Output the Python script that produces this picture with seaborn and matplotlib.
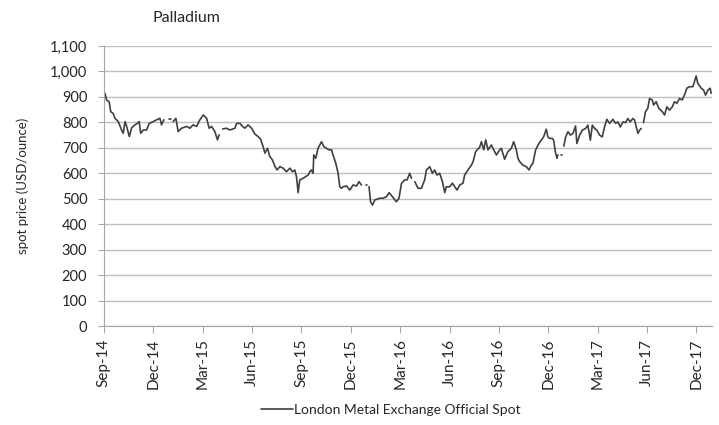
"""Palladium spot price chart (LME official spot), Sep-14 to Dec-17."""

import matplotlib
matplotlib.use("Agg")
import matplotlib.pyplot as plt
import numpy as np
import pandas as pd
import seaborn as sns
from matplotlib.lines import Line2D

# months since start of Sep-14 (NaN price = gap in the published series)
MONTHS = [
    0.06, 0.16, 0.32, 0.41, 0.56, 0.67, 0.87, 1.07, 1.17, 1.28, 1.38, 1.54,
    1.68, 1.88, 2.02, 2.14, 2.23, 2.39, 2.59, 2.75, 3.00, 3.20, 3.40, 3.50,
    3.64, 3.77, 3.95, 4.05, 4.12, 4.21, 4.37, 4.51, 4.72, 5.02, 5.22, 5.42,
    5.63, 5.83, 6.03, 6.24, 6.39, 6.54, 6.74, 6.90, 7.00, 7.11, 7.21, 7.45,
    7.65, 7.96, 8.06, 8.26, 8.42, 8.56, 8.76, 8.97, 9.17, 9.37, 9.52, 9.67,
    9.78, 9.94, 10.08, 10.24, 10.38, 10.52, 10.69, 10.89, 11.09, 11.30, 11.46, 11.60,
    11.70, 11.80, 11.90, 12.10, 12.31, 12.41, 12.51, 12.61, 12.71, 12.75, 12.87, 13.01,
    13.22, 13.36, 13.52, 13.68, 13.83, 13.92, 14.09, 14.23, 14.33, 14.43, 14.53, 14.74,
    14.94, 15.14, 15.35, 15.50, 15.65, 15.79, 15.92, 15.98, 16.03, 16.11, 16.20, 16.32,
    16.46, 16.76, 16.96, 17.17, 17.33, 17.53, 17.77, 17.93, 18.08, 18.28, 18.42, 18.58,
    18.69, 18.78, 18.89, 19.09, 19.29, 19.49, 19.60, 19.80, 19.96, 20.10, 20.24, 20.40,
    20.57, 20.71, 20.81, 21.01, 21.18, 21.32, 21.46, 21.62, 21.82, 21.92, 22.12, 22.33,
    22.43, 22.59, 22.83, 22.94, 23.08, 23.20, 23.34, 23.54, 23.64, 23.85, 24.05, 24.15,
    24.35, 24.55, 24.76, 24.90, 25.06, 25.16, 25.26, 25.46, 25.67, 25.83, 25.97, 26.07,
    26.23, 26.43, 26.58, 26.72, 26.88, 26.98, 27.08, 27.25, 27.33, 27.43, 27.53, 27.59,
    27.69, 27.76, 27.82, 27.88, 27.95, 28.06, 28.20, 28.34, 28.50, 28.66, 28.74, 28.91,
    29.07, 29.27, 29.41, 29.56, 29.68, 29.82, 29.96, 30.12, 30.28, 30.42, 30.56, 30.73,
    30.93, 31.09, 31.23, 31.38, 31.54, 31.70, 31.84, 31.98, 32.14, 32.25, 32.35, 32.45,
    32.55, 32.65, 32.72, 32.79, 32.91, 33.05, 33.16, 33.32, 33.40, 33.56, 33.72, 33.93,
    34.07, 34.21, 34.37, 34.54, 34.68, 34.82, 34.98, 35.14, 35.28, 35.42, 35.59, 35.79,
    35.99, 36.09, 36.30, 36.44, 36.56, 36.71, 36.84, 36.90,
]
PRICE = [
    914, 888, 880, 842, 835, 816, 803, 770, 757, 803, 784, 744,
    778, 790, 796, 803, 757, 770, 770, 796, 803, 810, 816, 790,
    810, np.nan, 813, 813, np.nan, 803, 816, 764, 777, 784, 777, 790,
    784, 810, 829, 816, 777, 784, 764, 731, 751, np.nan, 774, 777,
    770, 777, 796, 796, 784, 777, 790, 777, 754, 744, 734, 705,
    679, 698, 666, 652, 629, 613, 626, 620, 606, 620, 606, 613,
    587, 524, 574, 580, 589, 593, 606, 613, 600, 672, 659, 698,
    724, 705, 698, 692, 692, 672, 639, 600, 547, 541, 547, 550,
    534, 554, 550, 567, 554, np.nan, 554, 554, np.nan, 547, 488, 475,
    495, 502, 502, 508, 524, 508, 488, 502, 560, 574, 574, 600,
    580, np.nan, 567, 541, 541, 574, 613, 626, 600, 613, 593, 600,
    567, 524, 547, 547, 561, 547, 534, 554, 561, 593, 613, 632,
    645, 685, 702, 724, 692, 731, 692, 711, 698, 672, 692, 698,
    655, 685, 698, 724, 692, 659, 646, 632, 626, 613, 632, 639,
    691, 717, 730, 743, 773, 743, 737, 737, 730, 685, 659, 672,
    np.nan, 672, 672, np.nan, 707, 743, 763, 750, 756, 786, 717, 750,
    769, 776, 789, 730, 789, 776, 769, 750, 743, 782, 812, 796,
    812, 796, 802, 782, 802, 799, 815, 802, 815, 809, 782, 757,
    769, 776, np.nan, 799, 842, 855, 894, 888, 868, 881, 855, 842,
    829, 861, 848, 861, 881, 875, 894, 888, 907, 934, 940, 940,
    982, 953, 934, 927, 907, 927, 934, 914,
]

TICK_MONTHS = list(range(0, 37, 3))
TICK_LABELS = [
    "Sep-14", "Dec-14", "Mar-15", "Jun-15", "Sep-15", "Dec-15", "Mar-16",
    "Jun-16", "Sep-16", "Dec-16", "Mar-17", "Jun-17", "Dec-17",
]
Y_TICKS = list(range(0, 1101, 100))

LINE_COLOR = "#404040"
GRID_COLOR = "#bfbfbf"
AXIS_COLOR = "#a6a6a6"

df = pd.DataFrame({"months": MONTHS, "price": PRICE})
df["segment"] = df["price"].isna().cumsum()
df = df.dropna()

sns.set_theme(style="white")
plt.rcParams["font.family"] = ["Lato", "DejaVu Sans"]

fig = plt.figure(figsize=(7.19, 4.25), dpi=100)
ax = fig.add_axes([0.1446, 0.2329, 0.8456, 0.6589])

sns.lineplot(
    data=df, x="months", y="price", units="segment", estimator=None,
    sort=False, color=LINE_COLOR, lw=1.2, ax=ax, legend=False,
)

ax.set_xlim(0, 36.95)
ax.set_ylim(0, 1100)
ax.set_yticks(Y_TICKS)
ax.set_yticklabels([f"{v:,}" for v in Y_TICKS], fontsize=10.5, color="#262626")
ax.set_xticks(TICK_MONTHS)
ax.set_xticklabels(TICK_LABELS, rotation=90, fontsize=11, color="#262626")
ax.yaxis.grid(True, color=GRID_COLOR, lw=1.0)
ax.set_axisbelow(True)
ax.tick_params(axis="x", direction="out", length=5, width=0.8, color=AXIS_COLOR, pad=4, bottom=True)
ax.tick_params(axis="y", direction="out", length=4, width=0.8, color=AXIS_COLOR, pad=8, left=True)
for side in ["top", "right"]:
    ax.spines[side].set_visible(False)
for side in ["left", "bottom"]:
    ax.spines[side].set_color(AXIS_COLOR)
    ax.spines[side].set_linewidth(0.8)

ax.set_xlabel("")
ax.set_ylabel("spot price (USD/ounce)", fontsize=9.5, color="#262626", labelpad=12)
ax.yaxis.set_label_coords(-0.124, 0.5)

fig.text(152 / 719, 1 - 18 / 425, "Palladium", fontsize=11.5, ha="left", va="center", color="#262626")

fig.legend(
    handles=[Line2D([], [], color=LINE_COLOR, lw=1.2)],
    labels=["London Metal Exchange Official Spot"],
    loc="center", bbox_to_anchor=(0.544, 0.035), frameon=False,
    handlelength=2.3, handletextpad=0.1, fontsize=10,
)

fig.savefig("out.png", dpi=100)
plt.close(fig)
